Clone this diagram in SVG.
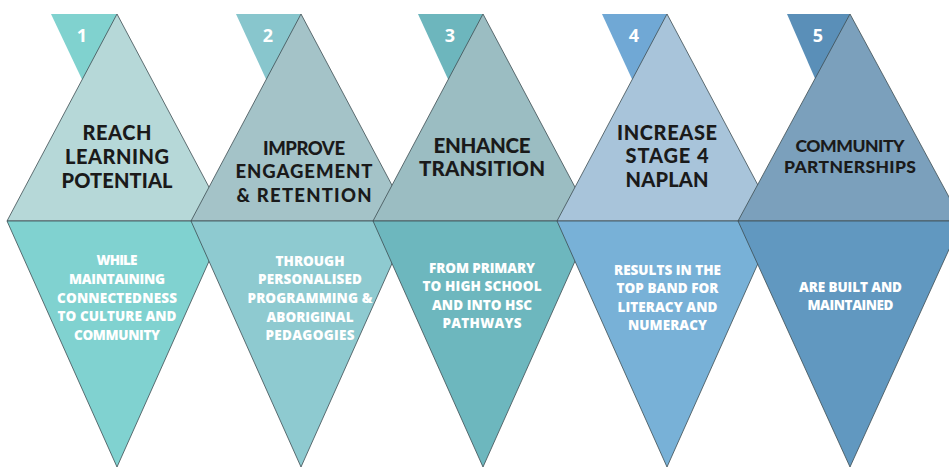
<svg xmlns="http://www.w3.org/2000/svg" width="949" height="468" viewBox="0 0 949 468">
<style>
.edge{stroke:#3d4d52;stroke-width:0.8;stroke-linejoin:round}
.tab{stroke:none}
.num{font-family:"Open Sans","Liberation Sans",sans-serif;font-weight:700;font-size:18px;fill:#ffffff;text-anchor:middle}
.title{font-family:Lato,"Liberation Sans",sans-serif;font-weight:900;fill:#1a1a1a;text-anchor:middle}
.sub{font-family:"Open Sans","Liberation Sans",sans-serif;font-weight:800;font-size:13.5px;fill:#ffffff;text-anchor:middle}
</style>
<rect width="949" height="468" fill="#ffffff"/>
<g id="connectors"></g>
<g id="node1">
<polygon class="tab" points="51,14 117,14 87,90" fill="#80d2cf"/>
<polygon class="edge" points="117,14 227,221 7,221" fill="#b6d8d8"/>
<polygon class="edge" points="7,221 227,221 117,467" fill="#80d2d0"/>
<text class="num" x="82" y="42">1</text>
<text class="title" font-size="20" x="117" y="140" textLength="69">REACH</text>
<text class="title" font-size="20" x="117" y="164" textLength="104">LEARNING</text>
<text class="title" font-size="20" x="117" y="188" textLength="111">POTENTIAL</text>
<text class="sub" x="117" y="265" textLength="41">WHILE</text>
<text class="sub" x="117" y="284" textLength="96">MAINTAINING</text>
<text class="sub" x="117" y="303" textLength="120">CONNECTEDNESS</text>
<text class="sub" x="117" y="321" textLength="119">TO CULTURE AND</text>
<text class="sub" x="117" y="340" textLength="86">COMMUNITY</text>
</g>
<g id="node2">
<polygon class="tab" points="236,14 301,14 271,90" fill="#88c6cd"/>
<polygon class="edge" points="301,14 411,221 191,221" fill="#a4c3c8"/>
<polygon class="edge" points="191,221 411,221 301,467" fill="#8ecad0"/>
<text class="num" x="268" y="42">2</text>
<text class="title" font-size="18.5" x="304" y="155" textLength="82">IMPROVE</text>
<text class="title" font-size="18.5" x="304" y="178" textLength="137">ENGAGEMENT</text>
<text class="title" font-size="18.5" x="304" y="202" textLength="135">&amp; RETENTION</text>
<text class="sub" x="310" y="266" textLength="69">THROUGH</text>
<text class="sub" x="310" y="284" textLength="104">PERSONALISED</text>
<text class="sub" x="310" y="303" textLength="125">PROGRAMMING &amp;</text>
<text class="sub" x="310" y="322" textLength="87">ABORIGINAL</text>
<text class="sub" x="310" y="340" textLength="89">PEDAGOGIES</text>
</g>
<g id="node3">
<polygon class="tab" points="418,14 483,14 453,90" fill="#6db6bd"/>
<polygon class="edge" points="483,14 593,221 373,221" fill="#9bbdc2"/>
<polygon class="edge" points="373,221 593,221 483,467" fill="#6db7be"/>
<text class="num" x="450" y="42">3</text>
<text class="title" font-size="20.5" x="482" y="153" textLength="97">ENHANCE</text>
<text class="title" font-size="20.5" x="482" y="176" textLength="126">TRANSITION</text>
<text class="sub" x="482" y="273" textLength="106">FROM PRIMARY</text>
<text class="sub" x="482" y="291" textLength="119">TO HIGH SCHOOL</text>
<text class="sub" x="482" y="310" textLength="100">AND INTO HSC</text>
<text class="sub" x="482" y="328" textLength="79">PATHWAYS</text>
</g>
<g id="node4">
<polygon class="tab" points="602,14 667,14 637,90" fill="#70a8d5"/>
<polygon class="edge" points="667,14 777,221 557,221" fill="#a8c4da"/>
<polygon class="edge" points="557,221 777,221 667,467" fill="#78b1d7"/>
<text class="num" x="634" y="42">4</text>
<text class="title" font-size="20" x="667" y="140" textLength="100">INCREASE</text>
<text class="title" font-size="20" x="667" y="163" textLength="83">STAGE 4</text>
<text class="title" font-size="20" x="667" y="187" textLength="83">NAPLAN</text>
<text class="sub" x="667.5" y="275" textLength="107">RESULTS IN THE</text>
<text class="sub" x="667.5" y="293" textLength="102">TOP BAND FOR</text>
<text class="sub" x="667.5" y="312" textLength="100">LITERACY AND</text>
<text class="sub" x="667.5" y="330" textLength="79">NUMERACY</text>
</g>
<g id="node5">
<polygon class="tab" points="787,14 850,14 820,90" fill="#5a8fb8"/>
<polygon class="edge" points="850,14 962,221 738,221" fill="#7ba0bc"/>
<polygon class="edge" points="738,221 962,221 850,467" fill="#6198c0"/>
<text class="num" x="818" y="42">5</text>
<text class="title" font-size="17.5" x="850" y="152" textLength="109">COMMUNITY</text>
<text class="title" font-size="17.5" x="850" y="173" textLength="132">PARTNERSHIPS</text>
<text class="sub" x="850.5" y="292" textLength="103">ARE BUILT AND</text>
<text class="sub" x="850.5" y="310" textLength="86">MAINTAINED</text>
</g>
</svg>
